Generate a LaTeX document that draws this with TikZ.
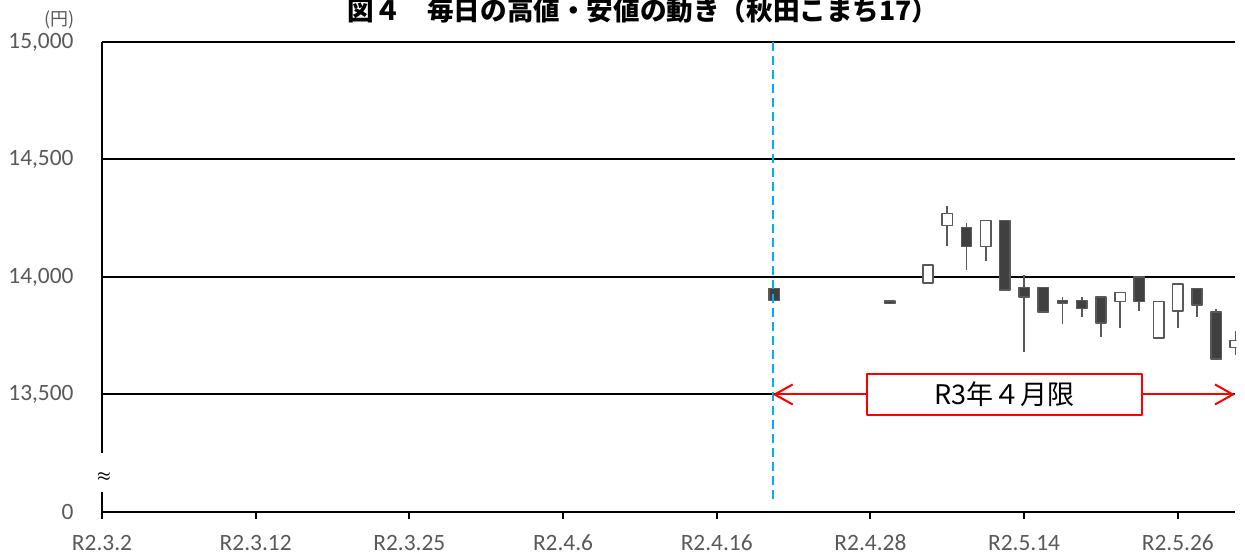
\documentclass[tikz,border=0pt]{standalone}
\usepackage{fontspec}
\setmainfont{Carlito}
\newfontfamily\jpfont{Noto Sans CJK JP}
\usetikzlibrary{arrows.meta}
\definecolor{txtgray}{RGB}{89,89,89}
\definecolor{barfill}{RGB}{64,64,64}
\definecolor{limblue}{RGB}{0,176,240}
\tikzset{
  grid line/.style={line width=1pt},
  wick/.style={draw=txtgray, line width=0.9pt},
  dark bar/.style={draw=txtgray, fill=barfill, line width=0.75pt},
  light bar/.style={draw=txtgray, fill=white, line width=0.75pt},
  lim line/.style={draw=limblue, line width=1pt, dash pattern=on 4.5pt off 2.5pt},
  lim box/.style={draw=red, fill=white, line width=0.75pt, minimum width=137.5pt, minimum height=20.5pt, inner sep=0pt, font=\jpfont\fontsize{13.5}{16}\selectfont},
  ylab/.style={anchor=east, inner sep=0pt, text=txtgray, font=\fontsize{11.7}{14}\selectfont},
  xlab/.style={anchor=base, text=txtgray, font=\fontsize{11.7}{14}\selectfont},
}
\begin{document}
\begin{tikzpicture}[x=9.605pt, y=0.1175pt, line join=round, >={Straight Barb[length=9pt,width=10pt]}]
 \useasboundingbox (-5.31,-204.3) rectangle (59.5,2178.7);
 \node[anchor=base, font=\jpfont\bfseries\fontsize{13.3}{16}\selectfont] (title) at (28.16,2090) {図４　毎日の高値・安値の動き（秋田こまち17）};
 \node[anchor=east, text=txtgray, inner sep=0pt, font=\jpfont\fontsize{9}{11}\selectfont] (unit) at (-1.42,2094) {(円)};
 % grid and axes
 \foreach \p in {500,1000,1500,2000} \draw[grid line] (0,\p) -- (59,\p);
 \draw[grid line] (0,2000) -- (0,251) (0,85) -- (0,0) -- (59,0);
 \node[font=\boldmath\scriptsize] (brk) at (0.1,149) {$\approx$};
 \foreach \p/\lab in {2000/{15,000},1500/{14,500},1000/{14,000},500/{13,500},0/0}
  \node[ylab] (y\p) at (-1.46,\p) {\lab};
 \foreach \k/\lab in {0/R2.3.2,8/R2.3.12,16/R2.3.25,24/R2.4.6,32/R2.4.16,40/R2.4.28,48/R2.5.14,56/R2.5.26}{
  \draw[grid line] (\k,0) -- (\k,-30);
  \node[xlab] (x\k) at (\k,-166) {\lab};
 }
 % candles
 \begin{scope}
  \clip (0,0) rectangle (59.05,2000);
  \foreach \k/\lo/\bo/\bt/\hi in {35/13900/13900/13950/13950,41/13888/13888/13898/13898,45/14030/14130/14210/14230,47/13945/13945/14240/14240,48/13680/13915/13955/14010,49/13850/13850/13955/13955,50/13800/13890/13900/13915,51/13830/13865/13900/13915,52/13745/13805/13915/13915,54/13855/13895/14000/14000,57/13830/13880/13950/13950,58/13650/13650/13850/13865}{
   \draw[wick] (\k,\lo-13000) -- (\k,\hi-13000);
   \draw[dark bar] (\k-0.27,\bo-13000) rectangle (\k+0.27,\bt-13000);
  }
  \foreach \k/\lo/\bo/\bt/\hi in {43/13975/13975/14050/14050,44/14130/14220/14270/14300,46/14070/14130/14240/14240,53/13785/13895/13935/13935,55/13740/13740/13895/13895,56/13785/13855/13970/13970,59/13670/13700/13730/13770}{
   \draw[wick] (\k,\lo-13000) -- (\k,\hi-13000);
   \draw[light bar] (\k-0.27,\bo-13000) rectangle (\k+0.27,\bt-13000);
  }
 \end{scope}
 % contract limit
 \coordinate (lim top) at (34.91,2000);
 \coordinate (lim bot) at (34.91,42.5);
 \draw[lim line] (lim top) -- (lim bot);
 \coordinate (arr l) at (34.91,500);
 \coordinate (arr r) at (58.98,500);
 \draw[red, line width=1pt, <->] (arr l) -- (arr r);
 \node[lim box] (lim) at (46.98,500) {R3年４月限};
\end{tikzpicture}
\end{document}
